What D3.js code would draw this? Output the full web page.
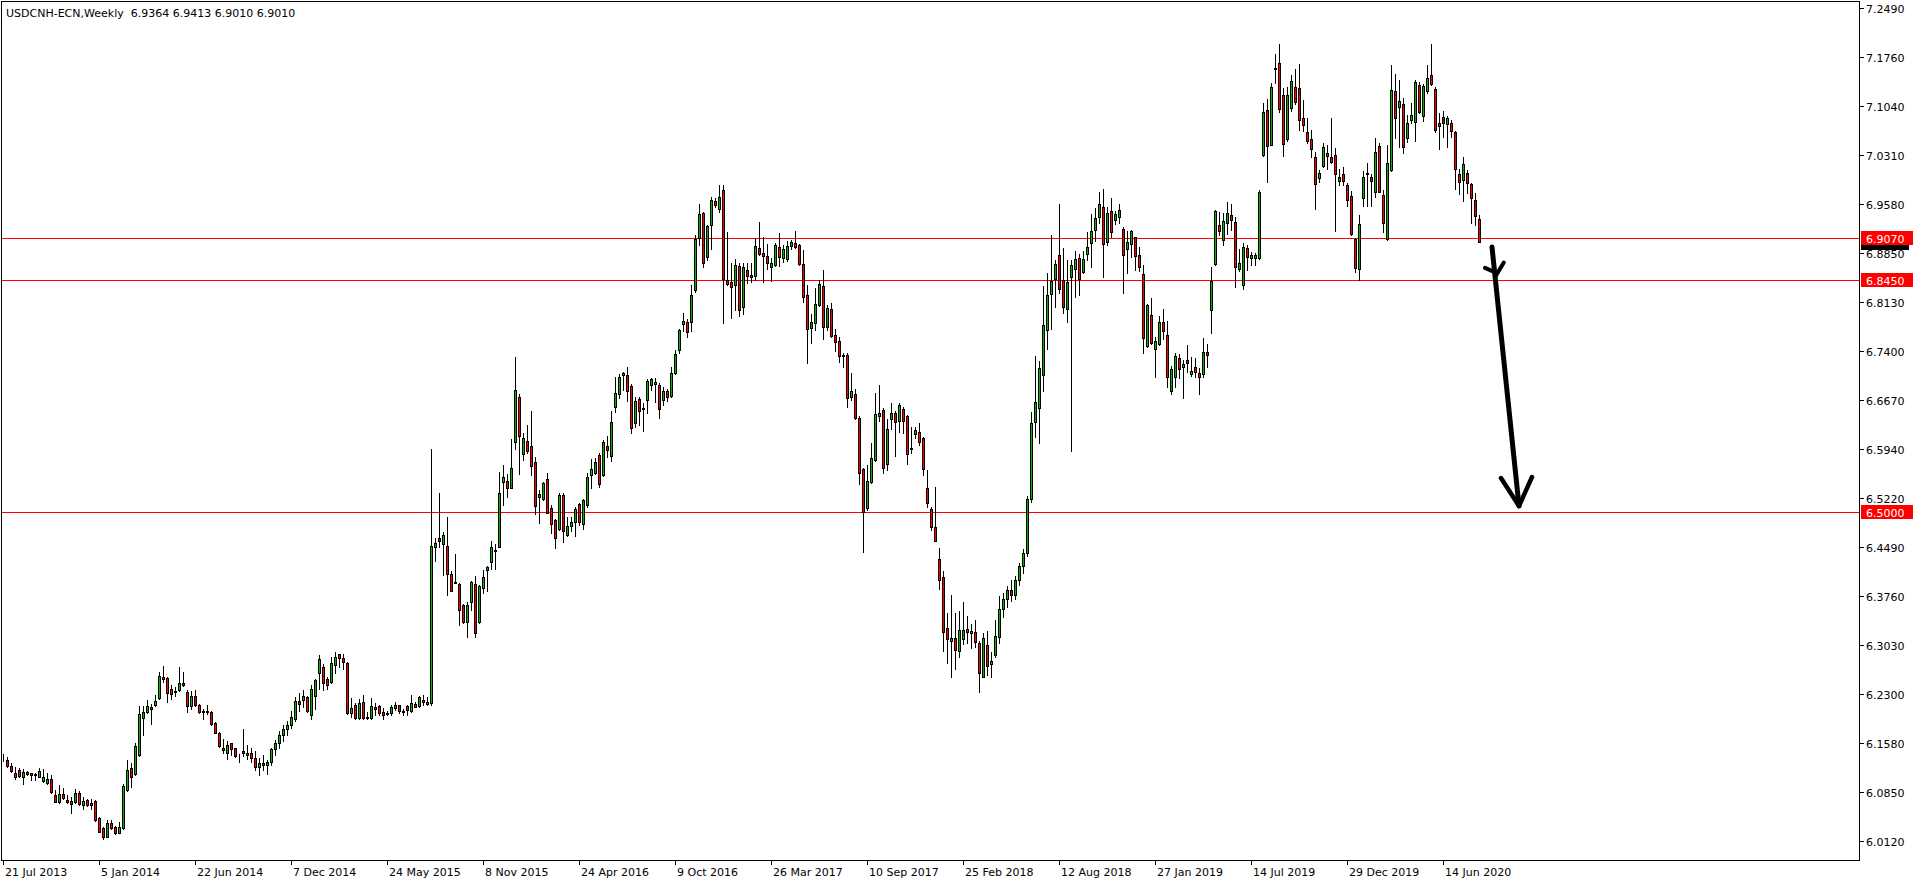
<!DOCTYPE html>
<html><head><meta charset="utf-8">
<script src="https://cdn.jsdelivr.net/npm/d3@7/dist/d3.min.js"></script>
<style>html,body{margin:0;padding:0;background:#fff;overflow:hidden}svg{display:block}</style>
</head><body>
<script>
// ---- data (weekly USDCNH bars starting 21 Jul 2013) ----
const symbolTitle = "USDCNH-ECN,Weekly  6.9364 6.9413 6.9010 6.9010";
const opens = [
6.1348,6.1323,6.1234,6.1125,6.1174,6.1075,6.1110,6.1125,6.1095,6.1075,
6.1006,6.0976,6.1036,6.0808,6.0704,6.0818,6.0724,6.0709,6.0699,6.0838,
6.0660,6.0729,6.0684,6.0719,6.0462,6.0318,6.0184,6.0382,6.0328,6.0244,
6.0313,6.0882,6.1204,6.1110,6.1392,6.1952,6.2031,6.2115,6.2135,6.2244,
6.2551,6.2536,6.2377,6.2348,6.2358,6.2466,6.2328,6.2130,6.2273,6.2140,
6.2051,6.2041,6.2036,6.1867,6.1719,6.1501,6.1422,6.1570,6.1496,6.1387,
6.1452,6.1392,6.1427,6.1350,6.1220,6.1280,6.1250,6.1300,6.1480,6.1580,
6.1700,6.1780,6.1843,6.1927,6.2199,6.2219,6.2254,6.1986,6.2273,6.2610,
6.2699,6.2521,6.2476,6.2729,6.2892,6.2833,6.2763,6.2016,6.2140,6.1952,
6.2179,6.1942,6.1942,6.2105,6.2125,6.2036,6.2026,6.2016,6.2100,6.2135,
6.2056,6.2125,6.2046,6.2150,6.2120,6.2209,6.2184,6.2165,6.4481,6.4620,
6.4531,6.4501,6.4085,6.3956,6.3941,6.3625,6.3367,6.3664,6.3931,6.3367,
6.3872,6.4140,6.4268,6.4442,6.4491,6.5446,6.5466,6.5367,6.6050,6.6708,
6.5862,6.6060,6.5986,6.5743,6.5224,6.5199,6.5491,6.5060,6.4887,6.4758,
6.5258,6.4669,6.4793,6.4862,6.5125,6.4828,6.5115,6.5550,6.5580,6.5847,
6.5550,6.5986,6.5842,6.6560,6.6753,6.7035,6.7035,6.6877,6.6332,6.6679,
6.6550,6.6664,6.6887,6.6902,6.6892,6.6664,6.6803,6.6733,6.7075,6.7406,
6.7793,6.7827,6.7822,6.8298,6.9070,6.9441,6.8788,6.9263,6.9624,6.9510,
6.9783,6.8446,6.8421,6.8372,6.8664,6.8045,6.8600,6.8520,6.8515,6.8921,
6.8847,6.8802,6.8649,6.8679,6.8936,6.8783,6.8768,6.8951,6.9000,6.8966,
6.8684,6.8223,6.7743,6.7817,6.8085,6.8357,6.7758,6.8015,6.7634,6.7540,
6.7337,6.7337,6.6718,6.6758,6.6397,6.5639,6.5065,6.5456,6.5773,6.6436,
6.6520,6.5714,6.6382,6.6471,6.6352,6.6530,6.6426,6.5956,6.6159,6.6189,
6.6100,6.5357,6.5050,6.4778,6.4303,6.4045,6.3278,6.3085,6.3130,6.2947,
6.3125,6.3268,6.3204,6.3219,6.3055,6.2560,6.3031,6.2744,6.2887,6.3154,
6.3560,6.3720,6.3850,6.3780,6.4000,6.4200,6.4400,6.5200,6.6337,6.6545,
6.7035,6.7704,6.8238,6.8466,6.8817,6.8446,6.8015,6.8491,6.8609,6.8773,
6.8575,6.8832,6.8995,6.9189,6.9382,6.9530,6.9010,6.9471,6.9337,6.9382,
6.9208,6.8916,6.8981,6.9085,6.8817,6.8535,6.7471,6.7926,6.7421,6.7506,
6.7822,6.7629,6.6798,6.7015,6.7288,6.7154,6.7258,6.7050,6.7164,6.7075,
6.7050,6.7377,6.8005,6.8684,6.9263,6.9045,6.9292,6.9411,6.9307,6.8619,
6.8372,6.8921,6.8778,6.8773,6.8773,7.0313,7.0971,7.0461,7.1594,7.1669,
7.1193,7.0540,7.1005,7.1312,7.1297,7.0852,7.0644,7.0545,7.0278,6.9961,
7.0139,7.0332,7.0273,7.0302,6.9926,7.0030,6.9862,6.9693,6.9065,6.8609,
6.9664,7.0045,6.9981,6.9763,7.0436,6.9714,6.9055,7.0085,7.1253,7.1015,
7.1065,7.0555,7.0827,7.0792,7.1342,7.0882,7.1253,7.1495,7.1282,7.0777,
7.0867,7.0768,7.0777,7.0644,7.0025,6.9936,7.0035,6.9877,6.9639,6.9364];
const highs = [
6.1407,6.1372,6.1273,6.1214,6.1204,6.1194,6.1160,6.1135,6.1135,6.1204,
6.1184,6.1125,6.1095,6.0877,6.0952,6.0902,6.0798,6.0778,6.0892,6.0868,
6.0778,6.0749,6.0749,6.0729,6.0481,6.0333,6.0432,6.0432,6.0343,6.0402,
6.0962,6.1323,6.1273,6.1570,6.2125,6.2125,6.2214,6.2155,6.2283,6.2635,
6.2719,6.2560,6.2432,6.2412,6.2709,6.2630,6.2362,6.2353,6.2362,6.2155,
6.2075,6.2135,6.2056,6.1887,6.1739,6.1630,6.1600,6.1580,6.1501,6.1412,
6.1778,6.1541,6.1500,6.1450,6.1350,6.1400,6.1320,6.1500,6.1620,6.1750,
6.1850,6.1900,6.2046,6.2254,6.2318,6.2362,6.2273,6.2432,6.2531,6.2882,
6.2749,6.2561,6.2848,6.2927,6.2902,6.2897,6.2778,6.2239,6.2174,6.2224,
6.2288,6.2041,6.2244,6.2165,6.2140,6.2095,6.2046,6.2140,6.2184,6.2145,
6.2085,6.2145,6.2288,6.2184,6.2273,6.2288,6.2254,6.5941,6.4615,6.5283,
6.4704,6.4927,6.4125,6.4382,6.3956,6.3634,6.3664,6.3986,6.4055,6.3917,
6.4145,6.4209,6.4570,6.4531,6.5600,6.5704,6.5570,6.6085,6.7312,6.6758,
6.6174,6.6293,6.6511,6.5818,6.5333,6.5456,6.5580,6.5110,6.4902,6.5293,
6.5283,6.4937,6.4937,6.5085,6.5144,6.5204,6.5590,6.5793,6.5803,6.5877,
6.6075,6.6139,6.6506,6.7015,6.7055,6.7085,6.7164,6.6907,6.6718,6.6718,
6.6619,6.6976,6.6996,6.6996,6.6926,6.6867,6.6837,6.7164,6.7411,6.7718,
6.7956,6.7877,6.8377,6.9114,6.9580,6.9466,6.9268,6.9689,6.9664,6.9857,
6.9857,6.9164,6.8699,6.8768,6.8699,6.8708,6.8708,6.8698,6.9070,6.9312,
6.9085,6.8981,6.8778,6.9005,6.9154,6.8966,6.9035,6.9045,6.9179,6.8981,
6.8896,6.8372,6.7946,6.8332,6.8451,6.8599,6.8075,6.8104,6.7723,6.7605,
6.7367,6.7362,6.7075,6.6827,6.6431,6.5664,6.5709,6.6025,6.6768,6.6892,
6.6550,6.6392,6.6619,6.6511,6.6619,6.6560,6.6441,6.6273,6.6273,6.6322,
6.6124,6.5629,6.5085,6.5382,6.4471,6.4135,6.3501,6.3773,6.3501,6.3541,
6.3669,6.3461,6.3343,6.3402,6.3095,6.3204,6.3234,6.2927,6.3402,6.3758,
6.3800,6.3900,6.4000,6.4050,6.4250,6.4450,6.5250,6.6496,6.7322,6.7248,
6.8362,6.8560,6.9119,6.8748,6.9580,6.8921,6.8748,6.8748,6.8882,6.8832,
6.8887,6.9164,6.9431,6.9520,6.9758,6.9797,6.9530,6.9669,6.9481,6.9580,
6.9243,6.9184,6.9193,6.9094,6.8936,6.8669,6.8095,6.8179,6.7600,6.7916,
6.8015,6.7842,6.7174,6.7362,6.7352,6.7263,6.7486,6.7303,6.7288,6.7139,
6.7585,6.7501,6.8639,6.9490,6.9461,6.9451,6.9609,6.9580,6.9391,6.8906,
6.8995,6.8971,6.8867,6.8847,6.9788,7.1075,7.1134,7.1382,7.1807,7.1956,
7.1307,7.1312,7.1490,7.1589,7.1659,7.1124,7.0852,7.0678,7.0357,7.0085,
7.0481,7.0461,7.0852,7.0406,7.0104,7.0124,6.9887,6.9778,6.9070,6.9416,
7.0065,7.0184,7.0025,7.0560,7.0481,6.9788,7.0456,7.1644,7.1510,7.1421,
7.1149,7.0901,7.1075,7.1421,7.1396,7.1361,7.1644,7.1956,7.1312,7.0936,
7.0961,7.0886,7.0827,7.0659,7.0094,7.0283,7.0085,6.9887,6.9738,6.9413];
const lows = [
6.1313,6.1224,6.1150,6.1046,6.1075,6.0967,6.1095,6.1026,6.1026,6.1066,
6.0996,6.0967,6.0838,6.0699,6.0689,6.0749,6.0689,6.0541,6.0679,6.0650,
6.0590,6.0640,6.0590,6.0422,6.0254,6.0145,6.0175,6.0303,6.0224,6.0234,
6.0303,6.0868,6.0917,6.1100,6.1382,6.1699,6.2016,6.1853,6.2125,6.2234,
6.2476,6.2184,6.2224,6.2278,6.2353,6.2422,6.2031,6.2080,6.2125,6.2016,
6.1937,6.2006,6.1848,6.1719,6.1521,6.1422,6.1343,6.1402,6.1372,6.1293,
6.1382,6.1343,6.1300,6.1180,6.1100,6.1180,6.1120,6.1250,6.1400,6.1500,
6.1600,6.1700,6.1793,6.1907,6.2056,6.2105,6.2036,6.1927,6.2085,6.2373,
6.2362,6.2382,6.2471,6.2610,6.2699,6.2669,6.2006,6.1966,6.1927,6.1927,
6.1927,6.1927,6.1927,6.1986,6.1996,6.1927,6.1986,6.1996,6.2066,6.2016,
6.1986,6.1996,6.2036,6.2105,6.2105,6.2140,6.2135,6.2135,6.4283,6.4481,
6.4065,6.3778,6.3828,6.3946,6.3322,6.3352,6.3144,6.3550,6.3144,6.3362,
6.3798,6.3838,6.4155,6.4155,6.4481,6.5110,6.5233,6.5357,6.5946,6.5570,
6.5778,6.5877,6.5560,6.4976,6.4847,6.5184,6.4986,6.4689,6.4476,6.4738,
6.4555,6.4654,6.4729,6.4654,6.4808,6.4748,6.5085,6.5357,6.5570,6.5382,
6.5540,6.5827,6.5768,6.6496,6.6699,6.6817,6.6659,6.6184,6.6273,6.6303,
6.6214,6.6471,6.6817,6.6639,6.6407,6.6590,6.6649,6.6718,6.7055,6.7372,
6.7699,6.7610,6.7699,6.8273,6.8971,6.8649,6.8748,6.8917,6.9540,6.9466,
6.7808,6.8382,6.7882,6.8006,6.7921,6.7946,6.8401,6.8416,6.8451,6.8817,
6.8426,6.8609,6.8441,6.8664,6.8659,6.8723,6.8733,6.8916,6.8926,6.8679,
6.8124,6.7223,6.7520,6.7704,6.8065,6.7580,6.7708,6.7609,6.7402,6.7233,
6.7154,6.6570,6.6669,6.6392,6.5422,6.4417,6.5035,6.5431,6.5763,6.6362,
6.5590,6.5629,6.6243,6.5837,6.6199,6.6184,6.5719,6.5887,6.6100,6.5996,
6.5560,6.5085,6.4738,6.4575,6.3857,6.2947,6.2768,6.2560,6.2669,6.2857,
6.3046,6.3055,6.2981,6.3006,6.2338,6.2551,6.2590,6.2551,6.2848,6.3055,
6.3450,6.3600,6.3680,6.3720,6.3920,6.4100,6.4350,6.5150,6.6115,6.6025,
6.6808,6.7421,6.7728,6.8055,6.8253,6.7966,6.7832,6.5917,6.8203,6.8228,
6.8560,6.8748,6.8649,6.9035,6.9292,6.8500,6.8976,6.9094,6.9283,6.9292,
6.8253,6.8550,6.8797,6.8599,6.8590,6.7362,6.7461,6.7501,6.7006,6.7491,
6.7570,6.6867,6.6758,6.6857,6.6991,6.6694,6.7090,6.7025,6.7015,6.6753,
6.7015,6.7164,6.7669,6.8674,6.9119,6.8966,6.9134,6.9193,6.8352,6.8590,
6.8322,6.8599,6.8674,6.8669,6.8763,7.0298,6.9912,7.0451,7.1382,7.0951,
7.0298,7.0520,7.0961,7.1065,7.0678,7.0669,7.0491,7.0283,6.9510,6.9912,
7.0124,7.0094,7.0184,6.9184,6.9857,6.9867,6.9550,6.9119,6.8575,6.8451,
6.9555,6.9555,6.9555,6.9689,6.9753,6.9159,6.9045,7.0075,7.0560,7.0421,
7.0342,7.0505,7.0777,7.0520,7.0926,7.0817,7.1223,7.1347,7.0649,7.0392,
7.0570,7.0431,7.0570,6.9797,6.9728,6.9629,6.9738,6.9302,6.9268,6.9010];
const closes = [
6.1358,6.1239,6.1165,6.1071,6.1085,6.1145,6.1145,6.1105,6.1115,6.1155,
6.1066,6.1041,6.0843,6.0704,6.0818,6.0759,6.0699,6.0675,6.0833,6.0665,
6.0714,6.0650,6.0660,6.0432,6.0259,6.0184,6.0387,6.0318,6.0234,6.0328,
6.0937,6.1174,6.1066,6.1531,6.2006,6.2036,6.2125,6.2080,6.2199,6.2570,
6.2531,6.2313,6.2308,6.2333,6.2471,6.2432,6.2120,6.2273,6.2135,6.2031,
6.2031,6.2051,6.1858,6.1729,6.1536,6.1467,6.1541,6.1481,6.1387,6.1377,
6.1427,6.1427,6.1350,6.1220,6.1280,6.1250,6.1300,6.1480,6.1580,6.1700,
6.1780,6.1843,6.1957,6.2194,6.2150,6.2268,6.2046,6.2373,6.2511,6.2818,
6.2461,6.2432,6.2759,6.2848,6.2833,6.2773,6.2016,6.2090,6.1942,6.2165,
6.1942,6.1957,6.2120,6.2075,6.2016,6.1991,6.2001,6.2115,6.2140,6.2046,
6.2036,6.2061,6.2165,6.2115,6.2254,6.2189,6.2150,6.4501,6.4546,6.4580,
6.4664,6.4080,6.3838,6.3966,6.3550,6.3367,6.3625,6.3966,6.3204,6.3907,
6.4041,6.4189,6.4481,6.4427,6.5283,6.5526,6.5367,6.5654,6.6817,6.6139,
6.6105,6.5917,6.5684,6.5090,6.5273,6.5441,6.4996,6.4828,6.4625,6.5258,
6.4719,6.4793,6.4852,6.5045,6.4852,6.5179,6.5526,6.5640,6.5743,6.5417,
6.6045,6.5927,6.6337,6.6768,6.7010,6.7070,6.6808,6.6258,6.6654,6.6511,
6.6530,6.6956,6.6976,6.6936,6.6530,6.6803,6.6718,6.7065,6.7352,6.7703,
6.7842,6.7684,6.8228,6.9055,6.9426,6.8699,6.9248,6.9634,6.9560,6.9679,
6.8471,6.8397,6.8342,6.8669,6.8006,6.8639,6.8510,6.8500,6.8951,6.8842,
6.8812,6.8708,6.8698,6.8976,6.8788,6.8906,6.8951,6.9015,6.8946,6.8689,
6.8194,6.7718,6.7822,6.8095,6.8392,6.7748,6.8035,6.7624,6.7535,6.7327,
6.7317,6.6694,6.6803,6.6407,6.5580,6.5011,6.5461,6.5803,6.6456,6.6476,
6.5654,6.6238,6.6471,6.6337,6.6590,6.6352,6.5862,6.5941,6.6219,6.6050,
6.5639,6.5134,6.4788,6.4580,6.3996,6.3229,6.3115,6.3130,6.2956,6.3253,
6.3253,6.3229,6.3239,6.3080,6.2620,6.3135,6.2719,6.2793,6.3164,6.3560,
6.3720,6.3850,6.3780,6.4000,6.4200,6.4400,6.5200,6.6322,6.6634,6.7139,
6.7778,6.8223,6.8436,6.8689,6.8312,6.8045,6.8416,6.8669,6.8758,6.8471,
6.8758,6.8936,6.9174,6.9367,6.9575,6.8981,6.9441,6.9159,6.9431,6.9486,
6.8817,6.9010,6.9174,6.8807,6.8649,6.7595,6.8080,6.7515,6.7540,6.7822,
6.7689,6.7015,6.7124,6.7317,6.7124,6.7199,6.7213,6.7095,6.7085,6.7006,
6.7377,6.7332,6.8436,6.9471,6.9179,6.9327,6.9441,6.9337,6.8639,6.8698,
6.8936,6.8788,6.8817,6.8817,6.9753,7.0941,7.0436,7.1312,7.1579,7.0995,
7.0466,7.1193,7.1401,7.1089,7.0827,7.0748,7.0510,7.0392,6.9872,7.0035,
7.0421,7.0288,7.0199,7.0020,6.9980,6.9921,6.9634,6.9129,6.8624,6.9278,
6.9976,7.0025,6.9916,7.0347,6.9763,6.9293,7.0184,7.1273,7.0852,7.1109,
7.0431,7.0777,7.0896,7.1386,7.0951,7.1332,7.1446,7.1356,7.0673,7.0743,
7.0777,7.0852,7.0669,7.0094,6.9901,7.0169,6.9887,6.9664,6.9401,6.9010];

const priceTicks = [7.2490,7.1760,7.1040,7.0310,6.9580,6.8850,6.8130,6.7400,6.6670,
                    6.5940,6.5220,6.4490,6.3760,6.3030,6.2300,6.1580,6.0850,6.0120];
const timeTickIndex = [0,24,48,72,96,120,144,168,192,216,240,264,288,312,336,360];
const timeTickLabels = ["21 Jul 2013","5 Jan 2014","22 Jun 2014","7 Dec 2014","24 May 2015",
  "8 Nov 2015","24 Apr 2016","9 Oct 2016","26 Mar 2017","10 Sep 2017","25 Feb 2018",
  "12 Aug 2018","27 Jan 2019","14 Jul 2019","29 Dec 2019","14 Jun 2020"];
const levelLines = [6.9070, 6.8450, 6.5000];
const lastPrice = 6.9010;
// hand-drawn arrow annotation in (bar index, price) space
const arrowShaft = [[372.25, 6.894], [379.0, 6.5095]];
const arrowHeadBottom = [[374.5, 6.551], [379.0, 6.5095], [382.25, 6.5525]];
const arrowHeadTop = [[[370.5, 6.863], [373.2, 6.856]], [[375.2, 6.871], [373.3, 6.852]]];

// ---- layout ----
const W = 1916, H = 884;
const plotL = 1, plotT = 1, plotR = 1859, plotB = 860;
const x = d3.scaleLinear().domain([0, 464]).range([3, 1859]);
const y = d3.scaleLinear().domain([6.0120, 7.2490]).range([841, 8]);
const FONT = "DejaVu Sans, Verdana, sans-serif";
const bull = "#00B400", bear = "#FF0000";

const bars = opens.map((o, i) => ({i, o, h: highs[i], l: lows[i], c: closes[i]}));

const svg = d3.select("body").append("svg").attr("width", W).attr("height", H)
  .style("font-family", FONT);
svg.append("rect").attr("width", W).attr("height", H).attr("fill", "#fff");

const g = svg.append("g").attr("shape-rendering", "crispEdges");

// level lines
g.selectAll("line.lvl").data(levelLines).join("line").attr("class", "lvl")
  .attr("x1", plotL).attr("x2", plotR)
  .attr("y1", d => Math.round(y(d)) + 0.5).attr("y2", d => Math.round(y(d)) + 0.5)
  .attr("stroke", "#FF0000").attr("stroke-width", 1);

// wicks
const px = i => Math.round(x(i));
g.selectAll("line.wick").data(bars).join("line").attr("class", "wick")
  .attr("x1", d => px(d.i) + 0.5).attr("x2", d => px(d.i) + 0.5)
  .attr("y1", d => Math.round(y(d.h))).attr("y2", d => Math.round(y(d.l)) + 1)
  .attr("stroke", "#000").attr("stroke-width", 1);

// bodies
g.selectAll("rect.body").data(bars).join("rect").attr("class", "body")
  .attr("x", d => px(d.i) - 0.5)
  .attr("y", d => Math.round(y(Math.max(d.o, d.c))) + 0.5)
  .attr("width", 2)
  .attr("height", d => Math.max(0, Math.round(y(Math.min(d.o, d.c))) - Math.round(y(Math.max(d.o, d.c)))))
  .attr("fill", d => d.c > d.o ? bull : (d.c < d.o ? bear : "#000"))
  .attr("stroke", "#000").attr("stroke-width", 1);

// frame
g.append("rect").attr("x", plotL + 0.5).attr("y", plotT + 0.5)
  .attr("width", plotR - plotL).attr("height", plotB - plotT)
  .attr("fill", "none").attr("stroke", "#000");

// price axis
g.selectAll("line.pt").data(priceTicks).join("line").attr("class", "pt")
  .attr("x1", plotR + 1).attr("x2", plotR + 5)
  .attr("y1", d => Math.round(y(d)) + 0.5).attr("y2", d => Math.round(y(d)) + 0.5)
  .attr("stroke", "#000");
svg.selectAll("text.pt").data(priceTicks).join("text").attr("class", "pt")
  .attr("x", plotR + 7).attr("y", d => Math.round(y(d)) + 4.5)
  .attr("font-size", 11).attr("fill", "#000").text(d => d.toFixed(4));

// current price marker (only its lower edge shows below the red label)
g.append("rect").attr("x", plotR + 2).attr("width", 48)
  .attr("y", Math.round(y(lastPrice)) - 7).attr("height", 15).attr("fill", "#000");

// level labels
const lv = svg.selectAll("g.lv").data(levelLines).join("g").attr("class", "lv");
lv.append("rect").attr("x", plotR + 2).attr("width", 52)
  .attr("y", d => Math.round(y(d)) - 7).attr("height", 14).attr("fill", "#FF0000")
  .attr("shape-rendering", "crispEdges");
lv.append("text").attr("x", plotR + 7).attr("y", d => Math.round(y(d)) + 4.5)
  .attr("font-size", 11).attr("fill", "#fff").text(d => d.toFixed(4));

// time axis
g.selectAll("line.tt").data(timeTickIndex).join("line").attr("class", "tt")
  .attr("x1", d => px(d) + 0.5).attr("x2", d => px(d) + 0.5)
  .attr("y1", plotB + 1).attr("y2", plotB + 5).attr("stroke", "#000");
svg.selectAll("text.tt").data(timeTickIndex).join("text").attr("class", "tt")
  .attr("x", d => px(d) + 2).attr("y", plotB + 16)
  .attr("font-size", 11).attr("fill", "#000").text((d, k) => timeTickLabels[k]);

// title
svg.append("text").attr("x", 6).attr("y", 17).attr("font-size", 11).attr("fill", "#000")
  .attr("xml:space", "preserve").style("white-space", "pre").text(symbolTitle);

// arrow annotation
const line = d3.line().x(d => x(d[0])).y(d => y(d[1]));
const ag = svg.append("g").attr("fill", "none").attr("stroke", "#000")
  .attr("stroke-linecap", "round").attr("stroke-linejoin", "round");
ag.append("path").attr("d", line(arrowShaft)).attr("stroke-width", 5);
ag.append("path").attr("d", line(arrowHeadBottom)).attr("stroke-width", 4.5);
arrowHeadTop.forEach(s => ag.append("path").attr("d", line(s)).attr("stroke-width", 4));
</script>
</body></html>
